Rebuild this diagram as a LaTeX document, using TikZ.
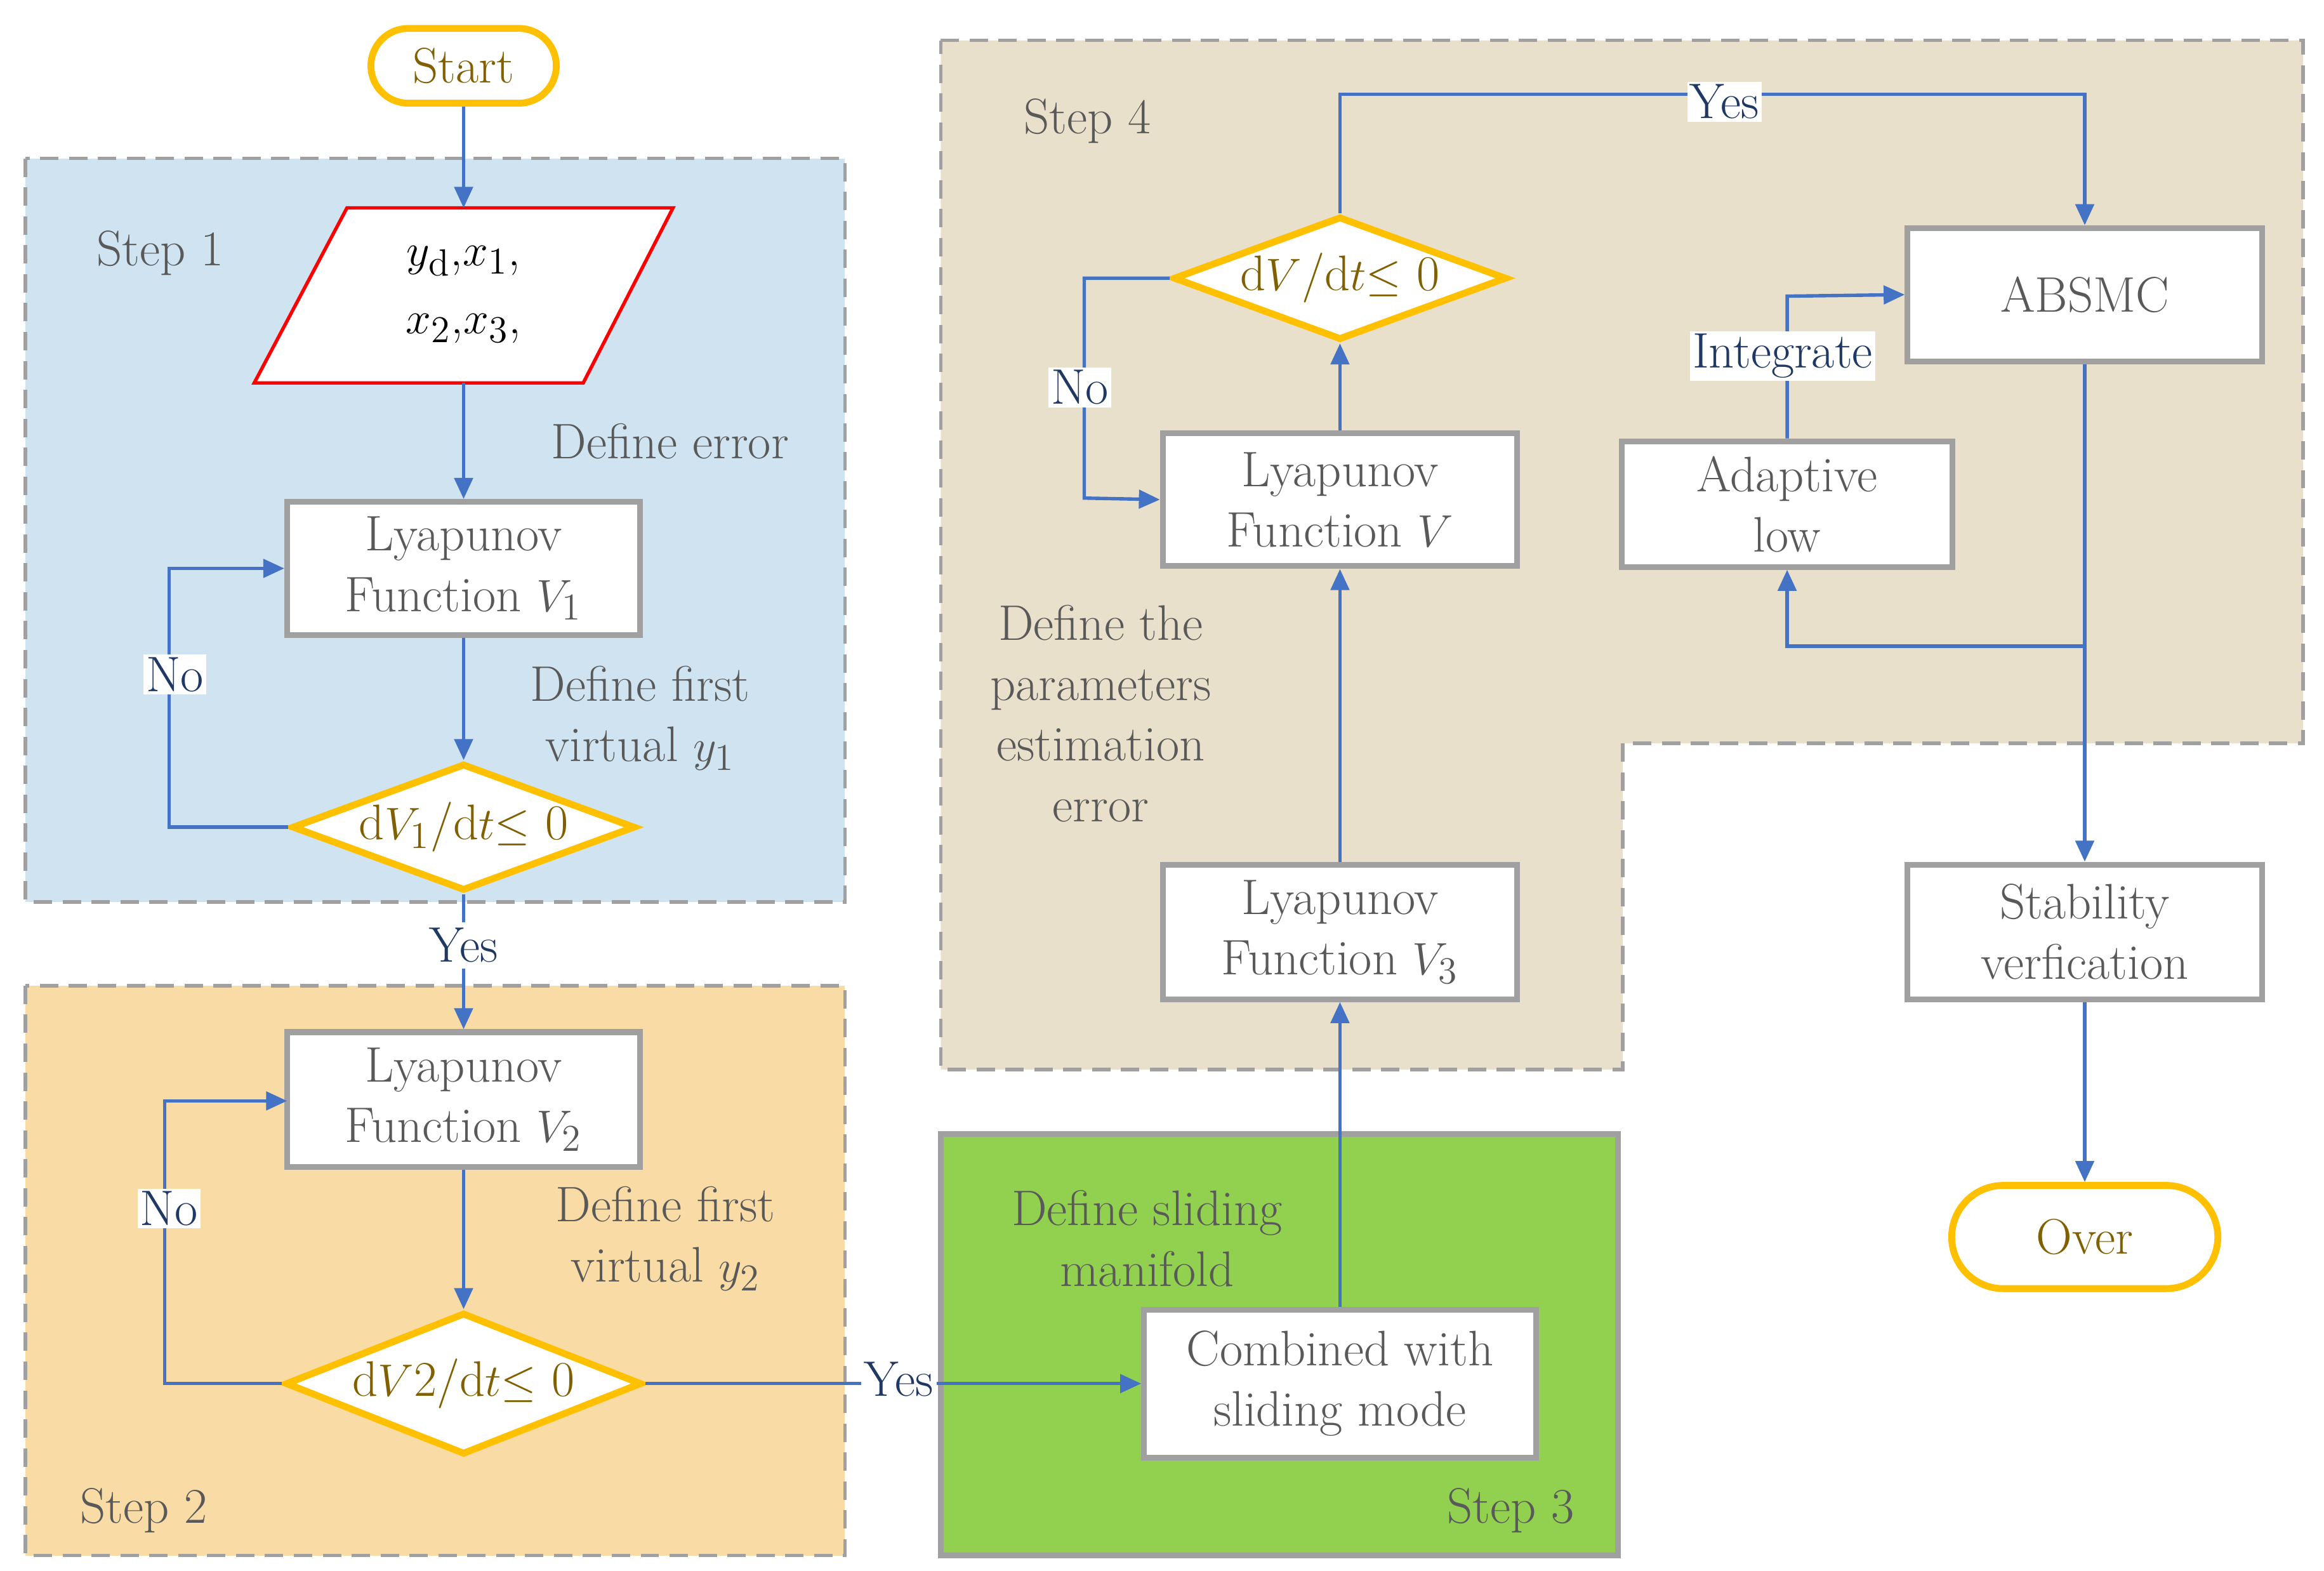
\documentclass[tikz,border=0pt]{standalone}
\usetikzlibrary{arrows.meta,shapes.geometric}
\definecolor{ablue}{RGB}{68,114,196}
\definecolor{orng}{RGB}{255,192,0}
\definecolor{brn}{RGB}{128,96,0}
\definecolor{navy}{RGB}{31,56,100}
\definecolor{txt}{RGB}{89,89,89}
\definecolor{bx}{RGB}{160,160,160}
\begin{document}
\begin{tikzpicture}[x=0.02cm,y=-0.02cm,
  every node/.style={font=\fontsize{19}{23}\selectfont,text=txt,align=center},
  box/.style={draw=bx,line width=2.2pt,fill=white,inner sep=0pt},
  dia/.style={diamond,draw=orng,line width=2.6pt,fill=white,text=brn,aspect=2.7,inner sep=0pt},
  term/.style={draw=orng,line width=2.6pt,rounded corners=0.5cm,fill=white,text=brn},
  arr/.style={draw=ablue,line width=1.3pt,-{Triangle[length=8pt,width=7pt]}},
  ln/.style={draw=ablue,line width=1.3pt},
  lab/.style={text=navy,fill=white,inner sep=1pt},
  reg/.style={draw=bx,dash pattern=on 7pt off 4pt,line width=1.3pt}]
\useasboundingbox (0,0) rectangle (1554,1050);
% regions
\fill[fill={rgb,255:red,207;green,228;blue,240}] (17,106) rectangle (565,603);
\draw[reg] (17,106) rectangle (565,603);
\fill[fill={rgb,255:red,249;green,220;blue,165}] (17,659) rectangle (565,1040);
\draw[reg] (17,659) rectangle (565,1040);
\draw[fill={rgb,255:red,146;green,208;blue,80},draw=bx,line width=2.2pt] (629,758) rectangle (1082,1040);
\draw[reg,fill={rgb,255:red,233;green,224;blue,203}] (629,27)--(1540,27)--(1540,497)--(1085,497)--(1085,715)--(629,715)--cycle;
\node at (107,169) {Step 1};
\node at (96,1010) {Step 2};
\node at (1010,1010) {Step 3};
\node at (727,81) {Step 4};
% nodes
\node[term,minimum width=2.48cm,minimum height=1cm] (start) at (310,44) {Start};
\draw[red,line width=1.3pt,fill=white] (232,139)--(450,139)--(390,256)--(170,256)--cycle;
\node[text=black] (par) at (310,197) {$y_{\mathrm d}$,$x_1$,\\[3pt]$x_2$,$x_3$,};
\coordinate (parT) at (310,139); \coordinate (parB) at (310,256);
\node[box,minimum width=4.72cm,minimum height=1.78cm] (v1) at (310,380) {Lyapunov\\Function $V_1$};
\node[dia,minimum width=4.3cm,minimum height=1.6cm] (d1) at (310,553) {d$V_1$/d$t$$\leq$ 0};
\node[box,minimum width=4.72cm,minimum height=1.8cm] (v2) at (310,735) {Lyapunov\\Function $V_2$};
\node[dia,minimum width=4.7cm,minimum height=1.9cm] (d2) at (310,925) {d$V$2/d$t$$\leq$ 0};
\node[box,minimum width=5.24cm,minimum height=1.98cm] (comb) at (896,925) {Combined with\\sliding mode};
\node[box,minimum width=4.74cm,minimum height=1.8cm] (v3) at (896,623) {Lyapunov\\Function $V_3$};
\node[box,minimum width=4.74cm,minimum height=1.78cm] (v) at (896,334) {Lyapunov\\Function $V$};
\node[dia,minimum width=4.4cm,minimum height=1.6cm] (d) at (896,186) {d$V$/d$t$$\leq$ 0};
\node[box,minimum width=4.74cm,minimum height=1.78cm] (abs) at (1394,197) {ABSMC};
\node[box,minimum width=4.42cm,minimum height=1.68cm] (ad) at (1195,337) {Adaptive\\low};
\node[box,minimum width=4.74cm,minimum height=1.8cm] (stab) at (1394,623) {Stability\\verfication};
\node[term,minimum width=3.56cm,minimum height=1.38cm,rounded corners=0.69cm] (over) at (1394,827) {Over};
% labels
\node at (448,295) {Define error};
\node at (428,480) {Define first\\virtual $y_1$};
\node at (445,828) {Define first\\virtual $y_2$};
\node at (767,828) {Define sliding\\manifold};
\node at (736,477) {Define the\\parameters\\estimation\\error};
% arrows
\draw[arr] (start) -- (parT);
\draw[arr] (parB) -- (v1);
\draw[arr] (v1) -- (d1);
\draw[arr] (d1.west) -- (113,553) -- (113,380) -- (v1.west);
\node[lab] at (117,451) {No};
\node[text=navy,inner sep=2pt] (y1) at (310,632) {Yes};
\draw[ln] (d1.south) -- (y1.north);
\draw[arr] (y1.south) -- (v2);
\draw[arr] (v2) -- (d2);
\draw[arr] (d2.west) -- (110,925) -- (110,736) -- (192,736);
\node[lab] at (113,808) {No};
\node[text=navy,inner sep=1pt] (y2) at (601,922) {Yes};
\draw[ln] (d2.east) -- (y2.west|-d2.east);
\draw[arr] (y2.east|-comb.west) -- (comb.west);
\draw[arr] (comb) -- (v3);
\draw[arr] (v3) -- (v);
\draw[arr] (v) -- (d);
\draw[arr] (d.west) -- (725,186) -- (725,333) -- (v.west);
\node[lab] at (722,259) {No};
\draw[arr] (d.north) -- (896,63) -- (1394,63) -- (abs.north);
\node[lab] at (1153,68) {Yes};
\draw[arr] (ad.north) -- (1195,198) -- (abs.west);
\node[lab] at (1192,238) {Integrate};
\draw[arr] (abs.south) -- (stab.north);
\draw[arr] (1394,432) -- (1195,432) -- (ad.south);
\draw[arr] (stab) -- (over);
\end{tikzpicture}
\end{document}
